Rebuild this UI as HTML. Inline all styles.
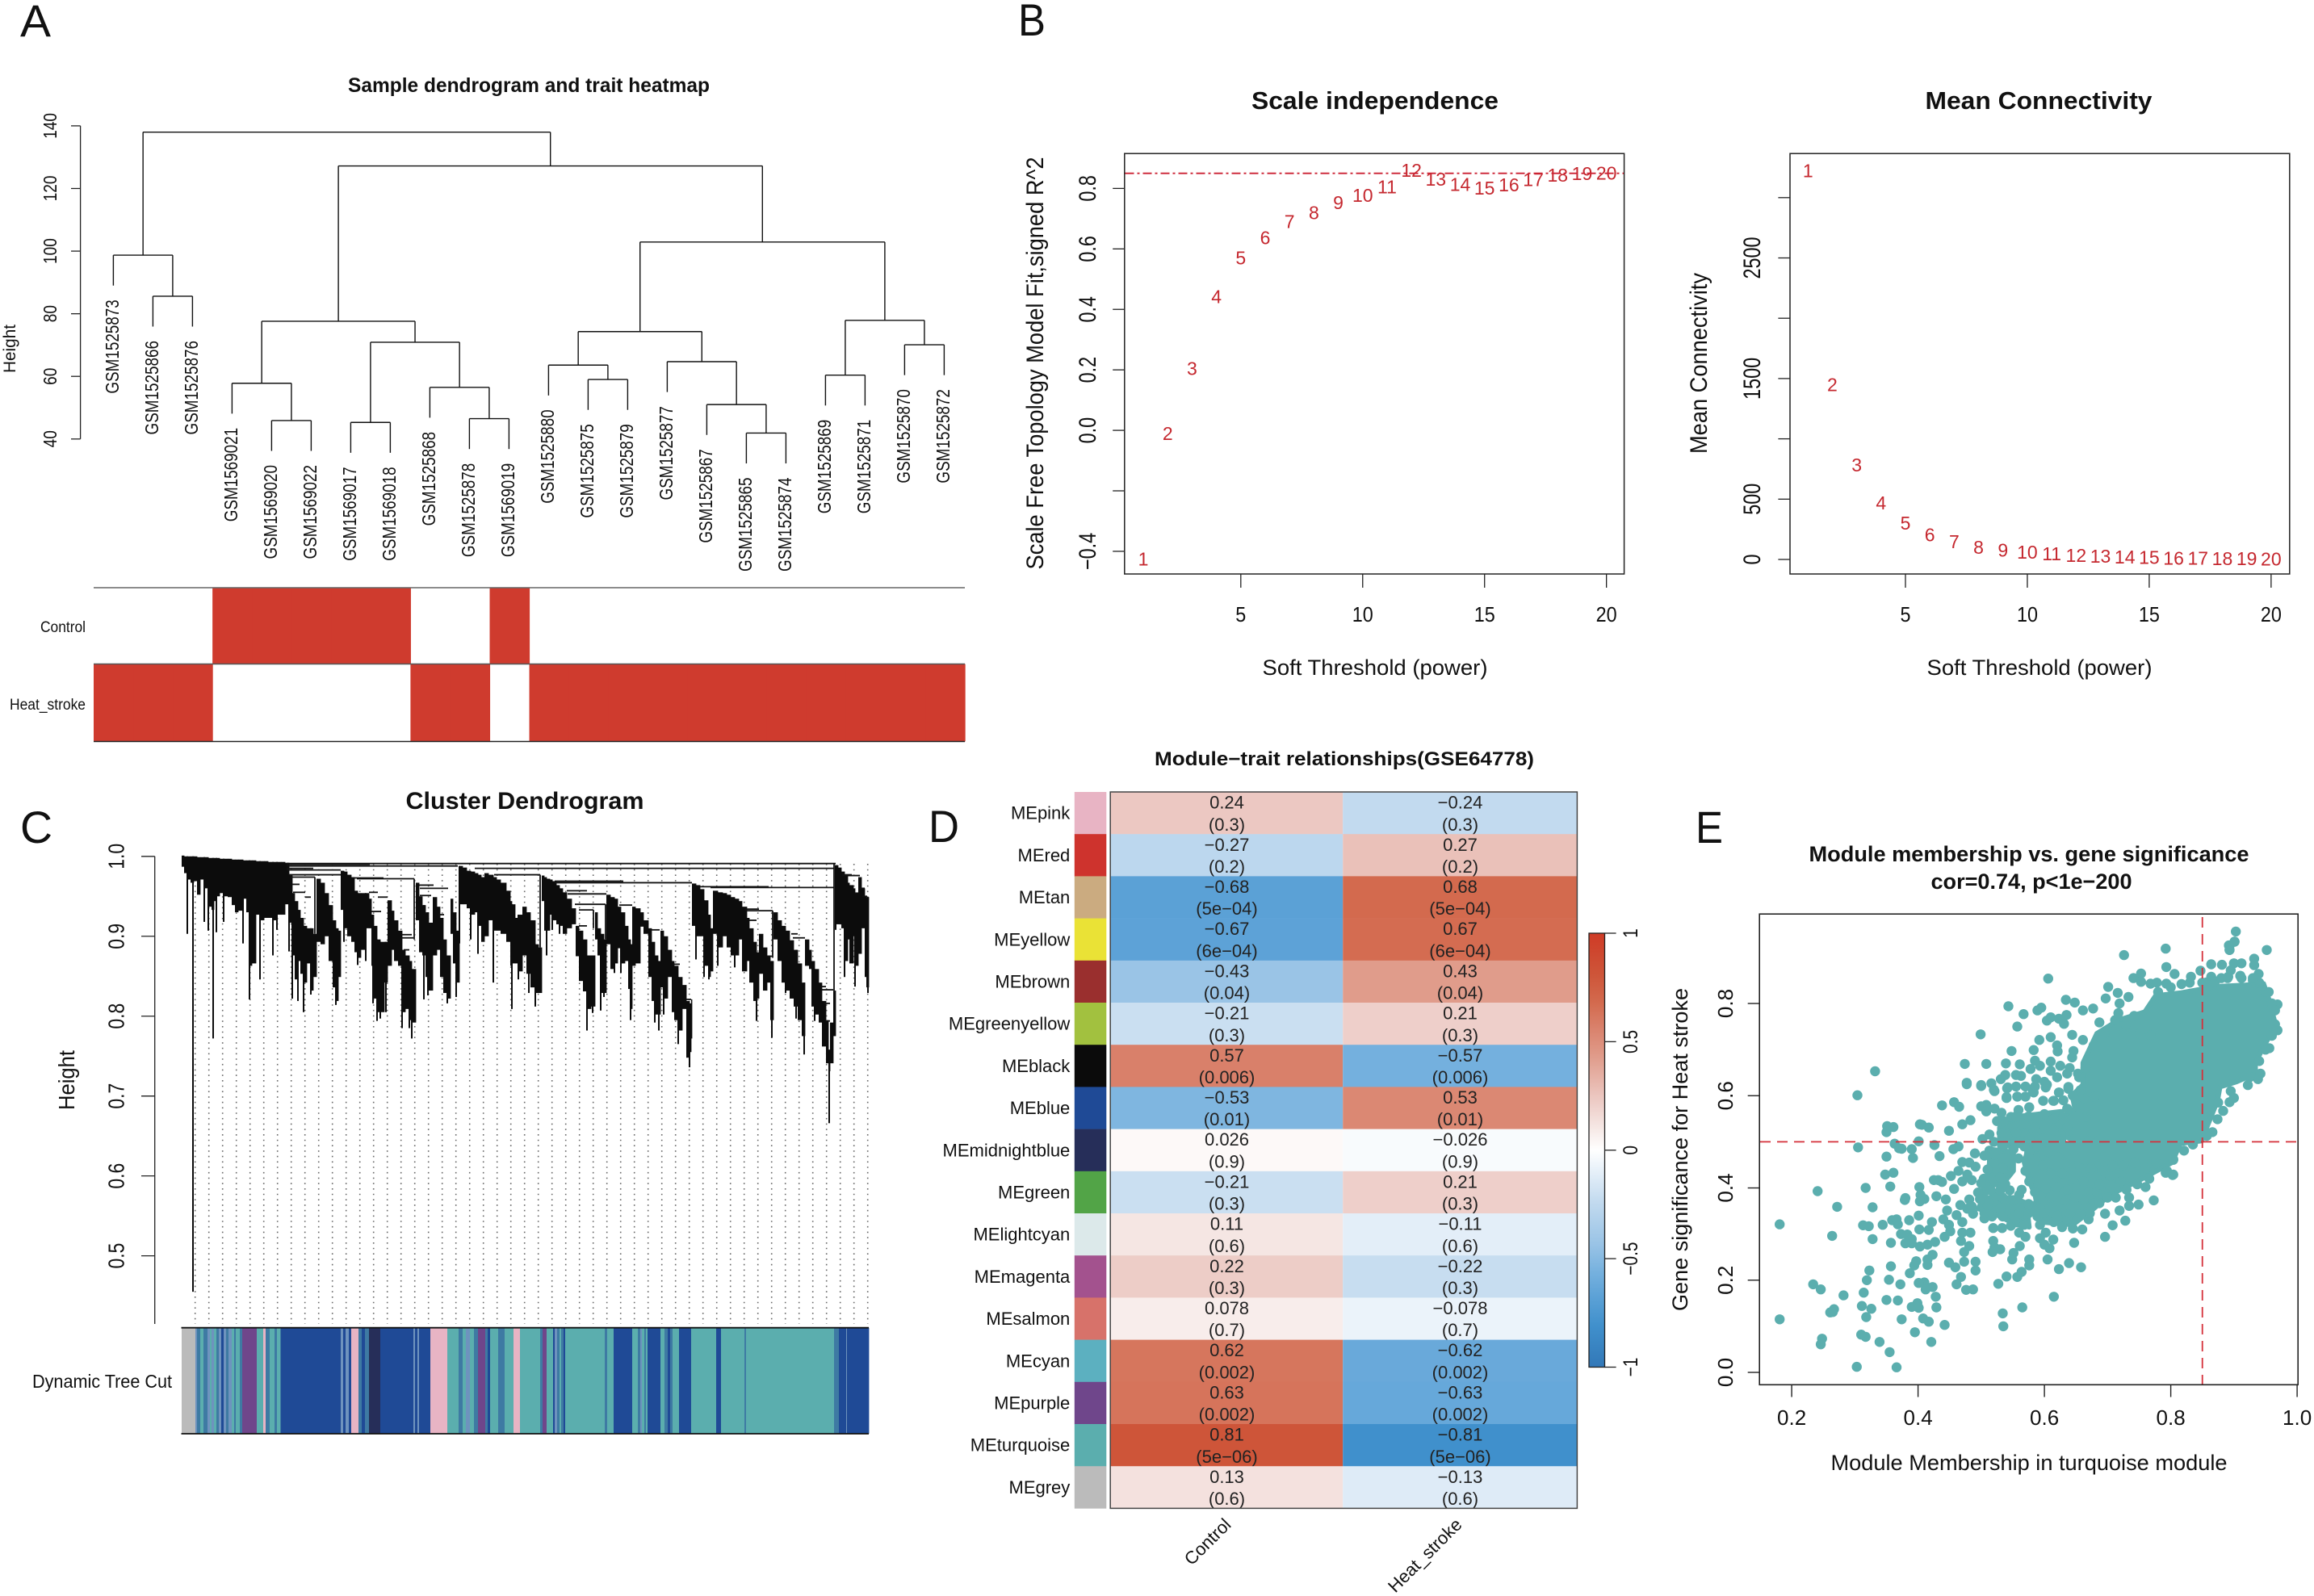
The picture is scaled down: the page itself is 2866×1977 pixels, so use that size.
<!DOCTYPE html>
<html lang="en">
<head>
<meta charset="utf-8">
<title>WGCNA multi-panel figure</title>
<style>
html,body{margin:0;padding:0;background:#fff;}
svg{display:block;}
text{font-family:"Liberation Sans",sans-serif;fill:#111;}
</style>
</head>
<body>
<svg id="fig" width="2866" height="1977" viewBox="0 0 2866 1977">
<defs id="defs"></defs>
<rect x="0" y="0" width="2866" height="1977" fill="#fff"/>

<text x="25" y="45" font-size="56" textLength="38" lengthAdjust="spacingAndGlyphs">A</text>
<text x="1261" y="44" font-size="56" textLength="34" lengthAdjust="spacingAndGlyphs">B</text>
<text x="25" y="1044" font-size="56" textLength="40" lengthAdjust="spacingAndGlyphs">C</text>
<text x="1150" y="1043" font-size="56" textLength="38" lengthAdjust="spacingAndGlyphs">D</text>
<text x="2100" y="1044" font-size="56" textLength="34" lengthAdjust="spacingAndGlyphs">E</text>

<text x="655" y="114" font-size="25" font-weight="700" text-anchor="middle" textLength="448" lengthAdjust="spacingAndGlyphs">Sample dendrogram and trait heatmap</text>
<text x="19" y="432" font-size="21" text-anchor="middle" textLength="60" lengthAdjust="spacingAndGlyphs" transform="rotate(-90 19 432)">Height</text>
<text x="106" y="783" font-size="19" text-anchor="end" textLength="56" lengthAdjust="spacingAndGlyphs">Control</text>
<text x="106" y="879" font-size="19" text-anchor="end" textLength="94" lengthAdjust="spacingAndGlyphs">Heat_stroke</text>

<text x="1703" y="135" font-size="31" font-weight="700" text-anchor="middle" textLength="306" lengthAdjust="spacingAndGlyphs">Scale independence</text>
<text x="2525" y="135" font-size="31" font-weight="700" text-anchor="middle" textLength="281" lengthAdjust="spacingAndGlyphs">Mean Connectivity</text>
<text x="1703" y="836" font-size="27" text-anchor="middle" textLength="279" lengthAdjust="spacingAndGlyphs">Soft Threshold (power)</text>
<text x="2526" y="836" font-size="27" text-anchor="middle" textLength="279" lengthAdjust="spacingAndGlyphs">Soft Threshold (power)</text>
<text x="1292" y="450" font-size="30" text-anchor="middle" textLength="511" lengthAdjust="spacingAndGlyphs" transform="rotate(-90 1292 450)">Scale Free Topology Model Fit,signed R^2</text>
<text x="2114" y="450" font-size="30" text-anchor="middle" textLength="224" lengthAdjust="spacingAndGlyphs" transform="rotate(-90 2114 450)">Mean Connectivity</text>

<text x="650" y="1002" font-size="30" font-weight="700" text-anchor="middle" textLength="295" lengthAdjust="spacingAndGlyphs">Cluster Dendrogram</text>
<text x="92" y="1338" font-size="28" text-anchor="middle" textLength="74" lengthAdjust="spacingAndGlyphs" transform="rotate(-90 92 1338)">Height</text>
<text x="213" y="1719" font-size="23" text-anchor="end" textLength="173" lengthAdjust="spacingAndGlyphs">Dynamic Tree Cut</text>

<text x="1665" y="948" font-size="24" font-weight="700" text-anchor="middle" textLength="470" lengthAdjust="spacingAndGlyphs">Module−trait relationships(GSE64778)</text>
<text x="1526" y="1890" font-size="22" text-anchor="end" transform="rotate(-45 1526 1890)">Control</text>
<text x="1812" y="1890" font-size="22" text-anchor="end" transform="rotate(-45 1812 1890)">Heat_stroke</text>

<text x="2513" y="1067" font-size="27" font-weight="700" text-anchor="middle" textLength="545" lengthAdjust="spacingAndGlyphs">Module membership vs. gene significance</text>
<text x="2516" y="1101" font-size="27" font-weight="700" text-anchor="middle" textLength="249" lengthAdjust="spacingAndGlyphs">cor=0.74, p&lt;1e−200</text>
<text x="2513" y="1821" font-size="27" text-anchor="middle" textLength="491" lengthAdjust="spacingAndGlyphs">Module Membership in turquoise module</text>
<text x="2090" y="1424" font-size="27" text-anchor="middle" textLength="400" lengthAdjust="spacingAndGlyphs" transform="rotate(-90 2090 1424)">Gene significance for Heat stroke</text>
</svg>

<script>
/* ---------- Panel A data ---------- */
const sampleNames = ["GSM1525873","GSM1525866","GSM1525876","GSM1569021","GSM1569020","GSM1569022","GSM1569017","GSM1569018","GSM1525868","GSM1525878","GSM1569019","GSM1525880","GSM1525875","GSM1525879","GSM1525877","GSM1525867","GSM1525865","GSM1525874","GSM1525869","GSM1525871","GSM1525870","GSM1525872"];
/* hclust convention: negative = leaf (1-based), positive = earlier merge (1-based) */
const mergeA = [-2,-1,-5,-4,-7,-10,-9,5,4,-13,-12,-17,-16,-15,11,-19,-21,16,15,9,2];
const mergeB = [-3,1,-6,3,-8,-11,6,7,8,-14,10,-18,12,13,14,-20,-22,17,18,19,20];
const mergeHeight = [85.6,98.7,45.9,57.8,45.3,46.5,56.5,70.9,77.6,59.0,63.6,41.9,51.0,64.7,74.3,60.4,70.1,77.9,102.9,127.2,138.0];
const sampleAxisTicks = [40,60,80,100,120,140];
const traitControl = [0,0,0,1,1,1,1,1,0,0,1,0,0,0,0,0,0,0,0,0,0,0];
const traitHeatStroke = [1,1,1,0,0,0,0,0,1,1,0,1,1,1,1,1,1,1,1,1,1,1];

/* ---------- Panel B data ---------- */
const powers = [1,2,3,4,5,6,7,8,9,10,11,12,13,14,15,16,17,18,19,20];
const scaleFit = [-0.424,-0.009,0.206,0.443,0.571,0.638,0.692,0.721,0.755,0.778,0.807,0.861,0.832,0.815,0.803,0.813,0.83,0.845,0.851,0.852];
const meanConnectivity = [3225,1451,787,472,304,206,150,105,79,64,49,38,30,22,19,15,15,11,11,8];
const powerTicks = [5,10,15,20];
const fitTicks = [0.8,0.6,0.4,0.2,0.0,-0.2,-0.4];
const fitTickLabels = ["0.8","0.6","0.4","0.2","0.0","","−0.4"];
const connTicks = [0,500,1000,1500,2000,2500,3000];
const connTickLabels = ["0","500","","1500","","2500",""];
const fitCutoff = 0.85;

/* ---------- Panel C data (gene order position, height x 1000) ---------- */
const treeX = [0,3,7,11,15,19,23,28,33,37,40,43,47,52,57,62,66,70,76,80,83,87,92,97,102,107,113,118,123,128,133,137,140,144,147,151,155,160,163,167,172,177,182,187,191,194,197,201,205,210,214,218,222,227,232,235,238,242,246,251,255,260,263,268,273,277,282,285,290,294,298,302,306,311,316,320,324,328,333,336,340,344,348,353,358,363,367,371,375,380,386,390,395,402,407,409,413,417,422,427,432,438,442,446,449,452,456,459,464,468,472,477,483,488,492,497,502,507,512,515,519,523,526,531,536,540,544,549,553,556,558,562,568,572,578,582,586,590,593,597,602,607,610,615,620,625,629,631,632,637,642,647,652,655,658,664,670,675,680,685,690,694,700,703,708,712,715,720,725,729,733,738,743,748,753,758,763,768,772,777,780,784,789,793,798,801,803,807,810,813,817,821,825,827,832,834,838,842,846,848];
const treeTop = [1001,1000,1000,1000,1000,999,999,999,998,998,998,998,997,997,997,996,996,996,995,995,995,995,994,994,994,993,993,993,993,992,976,954,944,933,923,913,910,910,903,972,967,954,939,920,910,907,982,981,977,974,957,954,954,954,947,927,913,896,893,893,945,932,920,907,883,876,869,859,967,950,939,930,917,949,937,923,896,876,947,930,907,988,986,982,981,979,977,974,979,977,974,971,967,957,944,940,923,927,937,930,920,890,886,976,974,972,971,969,964,960,955,947,935,913,907,896,876,876,930,910,903,896,952,949,947,937,930,913,896,890,937,935,930,920,910,893,876,869,907,900,883,869,863,849,839,819,816,821,966,964,959,945,927,910,957,955,954,952,949,947,944,937,923,910,893,880,903,886,876,869,930,920,913,907,895,883,866,842,896,883,869,859,842,819,795,758,792,832,989,986,981,977,967,964,960,954,974,960,950,949];
const treeBottom = [987,979,971,967,969,952,971,960,937,933,944,950,954,950,949,939,930,932,947,930,863,866,927,920,923,923,920,927,927,940,917,876,846,869,853,842,866,832,849,893,890,900,869,836,819,849,933,910,900,893,880,873,883,910,910,863,822,805,805,842,863,883,869,863,805,809,795,792,920,880,876,849,832,876,883,849,829,822,903,866,842,940,940,935,927,930,913,893,900,920,907,907,903,893,863,866,866,856,876,853,836,829,829,944,907,907,927,920,915,913,903,910,915,875,844,831,809,812,896,876,829,829,890,859,866,885,866,869,834,809,863,866,912,903,849,819,802,802,836,822,849,805,795,782,809,748,755,772,913,900,900,863,849,856,903,886,900,886,876,876,896,856,869,842,819,822,853,832,842,795,896,869,842,832,822,812,795,775,863,859,812,802,792,762,741,731,741,775,915,915,910,869,896,866,900,863,878,910,849,836];
const spikeX = [7,14,28,33,39,43,52,76,84,97,113,118,133,137,144,151,160,191,201,218,228,237,242,246,253,273,282,285,300,305,329,340,344,358,367,386,409,417,430,438,452,459,468,502,509,519,523,536,544,556,586,591,597,615,629,637,647,653,664,685,712,731,748,761,771,784,802,810,821,834,850];
const spikeBottom = [903,455,918,907,772,905,918,891,821,846,876,908,881,822,819,805,827,814,893,864,869,816,794,797,805,785,785,772,821,826,816,824,891,896,878,842,809,846,829,812,876,908,903,782,804,807,824,854,854,795,792,782,802,765,736,871,849,846,863,861,794,773,829,797,752,794,666,908,849,837,829];
const mergeStart = [130,130,130,363,130,130,132,135,217,213,387,462,462,655,642,137,138,153,232,243,235,272,272,275,294,295,295,318,477,478,487,492,492,542,580,608,625,698,698,703,725,757,755,791,792,795,797,818,818,843,840,834];
const mergeEnd = [810,233,342,808,163,197,197,165,288,250,444,632,547,808,727,146,153,160,243,255,247,285,287,282,312,330,309,325,502,526,525,510,502,558,592,617,631,715,732,712,731,772,763,798,807,803,803,840,830,849,846,838];
const mergeLevel = [991,990,988,985,985,983,977,974,972,973,977,967,969,961,962,965,955,949,955,949,931,902,898,883,964,960,951,927,957,953,940,933,913,939,908,865,821,934,932,920,875,898,903,837,833,816,794,976,977,950,960,954];
const wallX = [288,444,165,732,808,525,510];
const wallTop = [972,977,974,932,991,940,933];
const wallBottom = [896,886,903,873,832,896,910];
const clusterTicks = [1.0,0.9,0.8,0.7,0.6,0.5];
const guideColumnCount = 50;
const moduleSegEnd = [17,19,23,27,32,35,37,40,43,46,49,52,55,58,62,65,67,72,75,93,101,104,109,115,118,122,123,197,200,203,207,210,219,223,227,232,246,287,289,292,294,308,329,343,348,352,357,362,367,376,379,382,392,400,411,419,444,447,452,460,462,465,468,470,473,475,524,527,535,558,565,568,570,573,575,577,593,598,602,605,608,616,631,662,668,697,699,808,814,823,824,851];
const moduleSegCode = ["g","l","s","t","s","l","t","l","t","s","l","b","l","s","l","t","s","t","s","p","t","k","s","t","s","t","s","b","l","b","l","b","k","s","b","s","m","b","l","b","l","b","k","t","s","t","l","t","s","p","s","b","t","s","t","k","t","s","p","t","b","l","s","t","s","b","t","s","t","b","t","s","l","t","s","t","b","t","s","b","s","t","b","t","b","t","s","t","s","b","l","b"];
const moduleCodeColor = {g:"#BBBBBB",b:"#1F4A96",t:"#5BAEAE",s:"#3E7AA3",l:"#6E93BE",p:"#6F468B",k:"#E8B4C4",m:"#262E59"};

/* ---------- Panel D data ---------- */
const moduleNames = ["MEpink","MEred","MEtan","MEyellow","MEbrown","MEgreenyellow","MEblack","MEblue","MEmidnightblue","MEgreen","MElightcyan","MEmagenta","MEsalmon","MEcyan","MEpurple","MEturquoise","MEgrey"];
const moduleColors = ["#E8B4C4","#CE332D","#CBAB80","#EAE236","#9A2F2E","#A2C13F","#0B0B0B","#1F4A96","#262E59","#52A447","#DCE9EA","#A3528E","#D7726A","#5CB0C0","#6F468B","#5BAEAE","#BBBBBB"];
const controlCor = [0.24,-0.27,-0.68,-0.67,-0.43,-0.21,0.57,-0.53,0.026,-0.21,0.11,0.22,0.078,0.62,0.63,0.81,0.13];
const heatStrokeCor = [-0.24,0.27,0.68,0.67,0.43,0.21,-0.57,0.53,-0.026,0.21,-0.11,-0.22,-0.078,-0.62,-0.63,-0.81,-0.13];
const corPValues = ["0.3","0.2","5e−04","6e−04","0.04","0.3","0.006","0.01","0.9","0.3","0.6","0.3","0.7","0.002","0.002","5e−06","0.6"];
const colorStopValue = [-1,-0.81,-0.68,-0.57,-0.43,-0.24,-0.11,0,0.11,0.24,0.43,0.57,0.68,0.81,1];
const colorStopHex = ["#3278B8","#4090CC","#5BA1D6","#74B0DE","#9AC4E6","#C2DAEF","#E3EEF8","#FFFFFF","#F5E6E3","#ECC8C2","#E09C8B","#D9806A","#D36A4E","#CE5539","#CF3B26"];
const colorbarTicks = [1,0.5,0,-0.5,-1];
const colorbarTickLabels = ["1","0.5","0","−0.5","−1"];

/* ---------- Panel E data ---------- */
const scatterTicksX = [0.2,0.4,0.6,0.8,1.0];
const scatterTicksY = [0.0,0.2,0.4,0.6,0.8];
const membershipCutoff = 0.85;
const significanceCutoff = 0.5;
/* fully overplotted parts of the cloud, outlines in data units */
const coreMembership = [.661,.683,.717,.759,.776,.815,.851,.874,.917,.947,.955,.964,.959,.947,.934,.934,.904,.878,.874,.857,.849,.814,.773,.718,.670,.628,.627,.648,.644,.661];
const coreSignificance = [.671,.735,.764,.782,.817,.823,.832,.837,.840,.843,.811,.764,.735,.706,.671,.648,.630,.619,.589,.531,.502,.496,.476,.467,.486,.515,.554,.572,.601,.624];
const lowerCoreMembership = [.576,.815,.802,.747,.704,.679,.645,.593,.585,.576,.568];
const lowerCoreSignificance = [.496,.496,.455,.414,.385,.356,.320,.326,.385,.414,.455];
const leftCoreMembership = [.513,.551,.551,.534,.508,.513];
const leftCoreSignificance = [.484,.478,.437,.408,.405,.455];
const bottomCoreMembership = [.504,.551,.572,.576,.555,.521,.495];
const bottomCoreSignificance = [.379,.379,.367,.315,.320,.344,.355];
const bandCoreMembership = [.529,.550,.627,.631,.529];
const bandCoreSignificance = [.531,.554,.566,.496,.490];
const geneMembership = [
.438,.457,.465,.483,.470,.449,.417,.406,.426,.456,.464,.434,.490,.470,.481,.491,.464,.452,.432,.438,.425,.478,.470,.485,.457,.429,.444,.410,.481,.467,.446,.461,.470,.505,.478,.487,.440,.422,.417,.442,.451,.449,.470,.468,.483,.427,.415,.481,.473,.423,.415,.415,.449,.459,.473,.491,.491,.468,.461,.476,.487,.423,.410,.412,.428,.429,.417,.408,.442,.421,
.519,.521,.530,.518,.551,.549,.561,.576,.576,.605,.623,.639,.658,.540,.527,.557,.564,.615,.565,.534,.535,.696,.708,.728,.719,.773,.749,.734,.647,.593,.608,.614,.600,.519,.533,.547,.570,.560,.504,.506,.498,
.513,.521,.525,.534,.521,.547,.559,.530,.538,.508,.521,.534,.551,.559,.568,.547,.534,.517,.525,.517,.555,.568,.564,.570,.576,.585,.581,.589,.593,.602,.615,.628,.645,.636,.619,.593,.610,.602,.619,.632,.636,.649,.662,.670,.679,.696,.670,.657,.683,.700,.713,.730,.747,.760,.766,.734,.721,.704,.687,.662,.645,.628,.610,.598,.585,.576,.589,.606,.623,.640,.657,.674,.691,.708,.725,.743,.760,.777,.794,.804,.804,.568,.551,.534,
.500,.508,.508,.521,.532,.525,.547,.559,.576,.598,.615,.636,.666,.679,.662,.657,.542,.540,.557,.570,.583,.602,.623,.638,.521,.500,.477,.513,.502,.532,.551,.568,.576,.598,.615,.585,.636,.649,.670,.687,
.181,.181,.241,.234,.246,.264,.272,.282,.267,.261,.265,.248,.246,.303,.366,.304,.332,.305,.317,.313,.322,.328,.328,.323,.319,.314,.311,.326,.318,.310,.317,.339,.355,.350,.351,.361,.363,.370,.374,.350,.348,.361,.356,.379,.380,.359,.366,.368,.386,.344,.357,.373,.383,.390,.380,.390,.357,.354,.372,.350,.368,.374,.390,.399,.401,.395,.387,.394,.397,.403,.402,.401,.402,.404,.403,.390,.392,.401,.403,.401,
.606,.726,.792,.903,.901,.892,.893,.952,.543,.567,.589,.595,.634,.648,.701,.697,.716,.733,.719,.717,.661,.677,.635,.604,.610,.623,.631,.557,.499,.548,.474,.508,.539,.561,.555,.563,.585,.578,.583,.592,.610,.620,.621,.646,.644,.610,.625,.593,.587,.610,.636,.653,.604,.623,.638,.582,.614,.477,.500,.516,.520,.531,.538,.541,.540,.557,.570,
.644,.661,.678,.695,.712,.687,.742,.729,.751,.768,.741,.753,.753,.768,.778,.793,.793,.806,.817,.832,.847,.864,.864,.857,.881,.900,.912,.932,.932,.939,.895,.891,.912,.893,.901,.893,.969,.969,.956,.942,.938,.922,.900,.893,.883,.874,.866,.857,.835,.821,.804,.803,.792,.960,.950,.940,.930,.910,.890,.870,.860,.850,
.687,.713,.704,.660,.672,.640,.620,.600,.585,.575,.560,.575,.560,.545,.530,.545,.530,.510,.505,.515,.500,.510,.505,.495,.485,.555,.520,.535,.555,.575,.600,.615,.630,.645,.655,.665,.640,.620,.600,.585,.570,.555,
.780,.800,.830,.850,.880,.910,.930,.955,.965,.965,.960,.950,.940,.925,.895,.875];
const geneSignificance = [
.579,.586,.576,.547,.538,.524,.531,.537,.493,.484,.490,.469,.475,.456,.455,.446,.437,.426,.417,.413,.417,.429,.414,.417,.398,.382,.375,.376,.375,.363,.351,.341,.326,.334,.355,.344,.332,.326,.309,.294,.306,.320,.303,.285,.303,.283,.277,.274,.261,.255,.245,.233,.238,.228,.240,.240,.221,.207,.191,.179,.180,.185,.195,.180,.164,.141,.110,.117,.103,.066,
.285,.271,.267,.261,.259,.245,.274,.245,.232,.245,.224,.237,.228,.208,.192,.207,.218,.164,.141,.128,.100,.294,.319,.329,.351,.373,.364,.361,.281,.291,.269,.288,.277,.313,.313,.318,.294,.303,.420,.393,.376,
.481,.455,.437,.443,.472,.466,.464,.423,.408,.405,.385,.379,.373,.355,.338,.344,.338,.355,.361,.338,.332,.320,.396,.437,.414,.391,.361,.338,.320,.303,.326,.315,.312,.332,.350,.356,.379,.399,.402,.373,.396,.379,.373,.391,.367,.344,.332,.344,.391,.379,.402,.396,.408,.402,.420,.379,.414,.426,.408,.414,.420,.431,.431,.449,.466,.478,.490,.478,.466,.455,.443,.443,.437,.449,.449,.455,.443,.455,.437,.429,.461,.490,.484,.490,
.577,.580,.566,.572,.563,.545,.554,.569,.575,.589,.589,.572,.554,.598,.595,.612,.618,.595,.598,.598,.607,.618,.607,.615,.610,.621,.625,.516,.506,.519,.531,.519,.507,.507,.525,.531,.531,.507,.502,.504,
.321,.115,.393,.191,.180,.296,.359,.167,.137,.130,.131,.073,.061,.012,.011,.601,.653,.488,.400,.319,.317,.358,.289,.221,.200,.173,.144,.138,.120,.082,.077,.066,.044,.521,.534,.532,.496,.486,.485,.468,.429,.433,.403,.374,.378,.330,.332,.321,.330,.320,.281,.300,.299,.289,.280,.280,.230,.201,.191,.157,.156,.115,.142,.150,.140,.087,.215,.232,.241,.273,.310,.340,.402,.385,.371,.484,.465,.501,.538,.194,
.854,.905,.919,.956,.934,.926,.916,.916,.794,.777,.785,.791,.808,.802,.836,.811,.823,.814,.800,.779,.785,.789,.775,.763,.770,.767,.756,.750,.733,.697,.669,.669,.670,.668,.645,.643,.676,.658,.699,.721,.727,.709,.696,.697,.683,.674,.665,.665,.636,.654,.648,.648,.624,.607,.619,.610,.589,.628,.623,.627,.613,.636,.645,.616,.597,.598,.598,
.732,.721,.709,.735,.764,.759,.773,.753,.735,.730,.855,.865,.847,.843,.845,.843,.879,.864,.842,.858,.871,.885,.858,.846,.884,.887,.887,.897,.883,.864,.872,.858,.855,.925,.934,.916,.798,.742,.703,.648,.636,.623,.595,.586,.567,.549,.521,.513,.494,.481,.462,.428,.433,.800,.825,.845,.850,.860,.855,.848,.840,.845,
.367,.379,.400,.310,.345,.345,.340,.345,.350,.345,.345,.365,.385,.395,.395,.355,.355,.360,.345,.395,.410,.440,.470,.390,.360,.520,.500,.545,.555,.555,.560,.550,.590,.600,.640,.660,.660,.640,.630,.620,.620,.620,
.825,.835,.845,.845,.855,.860,.855,.825,.785,.755,.730,.700,.675,.640,.610,.585];

/* ---------- helpers ---------- */
const svg = document.getElementById('fig');
const svgNS = svg.namespaceURI;
function mk(tag, parent, attrs){
  const node = document.createElementNS(svgNS, tag);
  for (const k in attrs) node.setAttribute(k, attrs[k]);
  parent.appendChild(node);
  return node;
}
function txt(parent, str, x, y, size, o){
  o = o || {};
  const node = mk('text', parent, {x:x, y:y, 'font-size':size, 'text-anchor':o.anchor || 'middle'});
  node.textContent = str;
  if (o.rot) node.setAttribute('transform', 'rotate(' + o.rot + ' ' + x + ' ' + y + ')');
  if (o.fill) node.style.fill = o.fill;
  if (o.squeeze && str.length) {
    node.setAttribute('textLength', (node.getComputedTextLength() * o.squeeze).toFixed(1));
    node.setAttribute('lengthAdjust', 'spacingAndGlyphs');
  }
  return node;
}
function line(parent, x1, y1, x2, y2, stroke, w){
  return mk('line', parent, {x1:x1, y1:y1, x2:x2, y2:y2, stroke:stroke, 'stroke-width':w});
}
function group(name){
  const g = mk('g', svg, {});
  
  
  return g;
}
const frac = v => v.toFixed(1);

/* ---------- Panel A ---------- */
(function(){
  const g = group('sample-dendrogram');
  const leafX = i => 140.4 + i * 49;
  const hY = h => 155.9 + (140 - h) * 3.879;
  const axis = line(g, 99.6, hY(140), 99.6, hY(40), '#222', 1.3);
  
  
  sampleAxisTicks.forEach(t => {
    const tick = line(g, 88, hY(t), 99.6, hY(t), '#222', 1.3);
    
    
    const label = txt(g, String(t), 70, hY(t), 23, {rot:-90, squeeze:0.83});
    
    
  });
  const hang = 9.7;
  const pos = [];
  function end(ref, parentH){
    if (ref < 0) {
      const i = -ref - 1;
      const h0 = parentH - hang;
      const stem = line(g, leafX(i), hY(parentH), leafX(i), hY(h0), '#111', 1.4);
      
      
      const label = txt(g, sampleNames[i], leafX(i) + 6.5, hY(h0) + 17.5, 23, {anchor:'end', rot:-90, squeeze:0.82});
      
      
      return leafX(i);
    }
    const m = ref - 1;
    const stem = line(g, pos[m], hY(parentH), pos[m], hY(mergeHeight[m]), '#111', 1.4);
    
    
    return pos[m];
  }
  mergeHeight.forEach((h, m) => {
    const a = end(mergeA[m], h), b = end(mergeB[m], h);
    const bar = line(g, a, hY(h), b, hY(h), '#111', 1.4);
    
    
    pos[m] = (a + b) / 2;
  });
  const hm = group('trait-heatmap');
  const cellX = i => 116 + i * 49.05;
  [[traitControl, 728, 822.5, 'control'], [traitHeatStroke, 822.5, 918.5, 'heat-stroke']].forEach(row => {
    row[0].forEach((v, i) => {
      if (!v) return;
      const cell = mk('rect', hm, {x:cellX(i), y:row[1], width:49.6, height:row[2] - row[1], fill:'#CF3B2E'});
      
      
    });
  });
  [[728,'#666'],[822.5,'#555'],[918.5,'#222']].forEach(r => {
    const rule = line(hm, 116, r[0], 1195, r[0], r[1], 1.5);
    
    
  });
})();

/* ---------- Panel B ---------- */
function softPlot(name, boxX, xOf, yOf, values, yTicks, yLabels, tickLabelX){
  const g = group(name);
  const box = mk('rect', g, {x:boxX, y:190.2, width:618.8, height:520.8, fill:'none', stroke:'#222', 'stroke-width':1.5});
  
  
  powerTicks.forEach(t => {
    const tick = line(g, xOf(t), 711, xOf(t), 728, '#222', 1.3);
    
    
    const label = txt(g, String(t), xOf(t), 770, 26, {squeeze:0.9});
    
    
  });
  yTicks.forEach((t, i) => {
    const tick = line(g, boxX - 14.6, yOf(t), boxX, yOf(t), '#222', 1.3);
    
    
    const label = txt(g, yLabels[i], tickLabelX, yOf(t), 30, {rot:-90, squeeze:0.78});
    
    
  });
  powers.forEach((p, i) => {
    const mark = txt(g, String(p), xOf(p), yOf(values[i]) + 8.5, 23, {fill:'#C5282F'});
    
    
  });
  return g;
}
(function(){
  const xL = p => 1536.8 + (p - 5) * 30.19;
  const yL = v => 233.4 + (0.8 - v) * 374.6;
  const gL = softPlot('scale-independence', 1392.8, xL, yL, scaleFit, fitTicks, fitTickLabels, 1357);
  const cut = line(gL, 1393.5, yL(fitCutoff), 2011, yL(fitCutoff), '#CC2233', 1.9);
  cut.setAttribute('stroke-dasharray', '11 4 3 4');
  
  
  const xR = p => 2360 + (p - 5) * 30.19;
  const yR = k => 693 - k * 0.1494;
  softPlot('mean-connectivity', 2217, xR, yR, meanConnectivity, connTicks, connTickLabels, 2180);
})();

/* ---------- Panel C ---------- */
(function(){
  const g = group('cluster-dendrogram');
  const xOf = v => 225 + v;
  const yOf = h => 1060.8 + (1 - h) * 989.6;
  const axis = line(g, 191.7, yOf(1), 191.7, 1640, '#222', 1.3);
  
  
  clusterTicks.forEach(t => {
    const tick = line(g, 175, yOf(t), 191.7, yOf(t), '#222', 1.3);
    
    
    const label = txt(g, t.toFixed(1), 153.5, yOf(t), 28, {rot:-90, squeeze:0.82});
    
    
  });
  for (let i = 0; i < guideColumnCount; i++) {
    const x = 241.7 + i * 17;
    const guide = line(g, x, 1070, x, 1640, '#666', 1.6);
    guide.setAttribute('stroke-dasharray', '1.6 5.1');
    
    
  }
  treeX.forEach((v, i) => {
    const next = i + 1 < treeX.length ? treeX[i + 1] : v + 3;
    const bar = mk('rect', g, {x:xOf(v), y:yOf(treeTop[i] / 1000), width:next - v + 0.4, height:yOf(treeBottom[i] / 1000) - yOf(treeTop[i] / 1000), fill:'#0c0c0c'});
    
    
  });
  spikeX.forEach((v, i) => {
    let top = treeTop[0];
    treeX.forEach((c, j) => { if (c <= v) top = treeTop[j]; });
    const sp = line(g, xOf(v), yOf(top / 1000), xOf(v), yOf(spikeBottom[i] / 1000), '#0c0c0c', 2);
    
    
  });
  mergeStart.forEach((v, i) => {
    const bar = line(g, xOf(v), yOf(mergeLevel[i] / 1000), xOf(mergeEnd[i]), yOf(mergeLevel[i] / 1000), '#111', 1.8);
    
    
  });
  wallX.forEach((v, i) => {
    const wall = line(g, xOf(v), yOf(wallTop[i] / 1000), xOf(v), yOf(wallBottom[i] / 1000), '#111', 1.8);
    
    
  });
  const bar = group('dynamic-tree-cut-bar');
  let prev = 0;
  moduleSegEnd.forEach((e, i) => {
    const seg = mk('rect', bar, {x:xOf(prev), y:1644.7, width:e - prev + 0.4, height:131.3, fill:moduleCodeColor[moduleSegCode[i]]});
    
    
    prev = e;
  });
  [1644.7, 1776].forEach(y => {
    const rule = line(bar, 224.5, y, 1076, y, '#111', 1.8);
    
    
  });
})();

/* ---------- Panel D ---------- */
function hexRgb(h){ return [1,3,5].map(i => parseInt(h.substr(i,2),16)); }
function corColor(v){
  for (let i = 0; i < colorStopValue.length - 1; i++) {
    const a = colorStopValue[i], b = colorStopValue[i + 1];
    if (v >= a && v <= b) {
      const t = (v - a) / (b - a), c0 = hexRgb(colorStopHex[i]), c1 = hexRgb(colorStopHex[i + 1]);
      return 'rgb(' + c0.map((c, k) => Math.round(c + (c1[k] - c) * t)).join(',') + ')';
    }
  }
  return '#fff';
}
(function(){
  const g = group('module-trait-heatmap');
  const rowH = (1868.4 - 981) / moduleNames.length;
  const rowY = i => 981 + i * rowH;
  const printCor = v => String(v).replace('-', '−');
  const cols = [[1375.2, 288, controlCor, 1519.5, 'control'], [1663.2, 290.2, heatStrokeCor, 1808.5, 'heat-stroke']];
  moduleNames.forEach((name, i) => {
    const swatch = mk('rect', g, {x:1330.8, y:rowY(i), width:39.5, height:rowH + 0.3, fill:moduleColors[i]});
    
    
    const rowLabel = txt(g, name, 1325.3, rowY(i) + 33.7, 22, {anchor:'end'});
    
    
    cols.forEach(c => {
      const cell = mk('rect', g, {x:c[0], y:rowY(i), width:c[1], height:rowH + 0.3, fill:corColor(c[2][i])});
      
      
      const val = txt(g, printCor(c[2][i]), c[3], rowY(i) + 20.6, 22, {fill:'#222'});
      
      
      const pv = txt(g, '(' + corPValues[i] + ')', c[3], rowY(i) + 47.8, 22, {fill:'#222'});
      
      
    });
  });
  const frame = mk('rect', g, {x:1375.2, y:981, width:578.2, height:887.4, fill:'none', stroke:'#444', 'stroke-width':1.5});
  
  

  const defs = document.getElementById('defs');
  const grad = mk('linearGradient', defs, {id:'cbGrad', x1:0, y1:0, x2:0, y2:1});
  for (let i = colorStopValue.length - 1; i >= 0; i--) {
    mk('stop', grad, {offset:((1 - colorStopValue[i]) / 2).toFixed(4), 'stop-color':colorStopHex[i]});
  }
  const cb = group('correlation-colorbar');
  const cbY = v => 1156 + (1 - v) / 2 * 537.5;
  const ramp = mk('rect', cb, {x:1968, y:cbY(1), width:19.5, height:537.5, stroke:'#222', 'stroke-width':1.3});
  ramp.setAttribute('fill', 'url(#cbGrad)');
  
  
  colorbarTicks.forEach((t, i) => {
    const tick = line(cb, 1987.5, cbY(t), 2001.6, cbY(t), '#222', 1.3);
    
    
    const label = txt(cb, colorbarTickLabels[i], 2028, cbY(t), 25, {rot:-90, squeeze:0.84});
    
    
  });
})();

/* ---------- Panel E ---------- */
(function(){
  const g = group('membership-scatter');
  const xOf = v => 2219.1 + (v - 0.2) * 782.5;
  const yOf = v => 1700 - v * 571.2;
  const teal = '#5BAEAE';
  [[coreMembership, coreSignificance], [lowerCoreMembership, lowerCoreSignificance], [leftCoreMembership, leftCoreSignificance], [bottomCoreMembership, bottomCoreSignificance], [bandCoreMembership, bandCoreSignificance]].forEach(area => {
    const hull = mk('polygon', g, {points:area[0].map((m, i) => frac(xOf(m)) + ',' + frac(yOf(area[1][i]))).join(' '), fill:teal, stroke:teal, 'stroke-width':6, 'stroke-linejoin':'round'});
    
    
  });
  geneMembership.forEach((m, i) => {
    if (geneSignificance[i] === undefined) return;
    const dot = mk('circle', g, {cx:frac(xOf(m)), cy:frac(yOf(geneSignificance[i])), r:6.2, fill:teal});
    
    
  });
  const v = line(g, xOf(membershipCutoff), 1136, xOf(membershipCutoff), 1715, '#D5303A', 1.8);
  v.setAttribute('stroke-dasharray', '13 8');
  
  
  const h = line(g, 2180, yOf(significanceCutoff), 2846, yOf(significanceCutoff), '#D5303A', 1.8);
  h.setAttribute('stroke-dasharray', '13 8');
  
  
  const box = mk('rect', g, {x:2179.2, y:1132.2, width:667, height:583.1, fill:'none', stroke:'#222', 'stroke-width':1.6});
  
  
  scatterTicksX.forEach(t => {
    const tick = line(g, xOf(t), 1715.3, xOf(t), 1730.5, '#222', 1.4);
    
    
    const label = txt(g, t.toFixed(1), xOf(t), 1765, 26);
    
    
  });
  scatterTicksY.forEach(t => {
    const tick = line(g, 2164.7, yOf(t), 2179.2, yOf(t), '#222', 1.4);
    
    
    const label = txt(g, t.toFixed(1), 2146, yOf(t), 26, {rot:-90});
    
    
  });
})();
</script>
</body>
</html>
